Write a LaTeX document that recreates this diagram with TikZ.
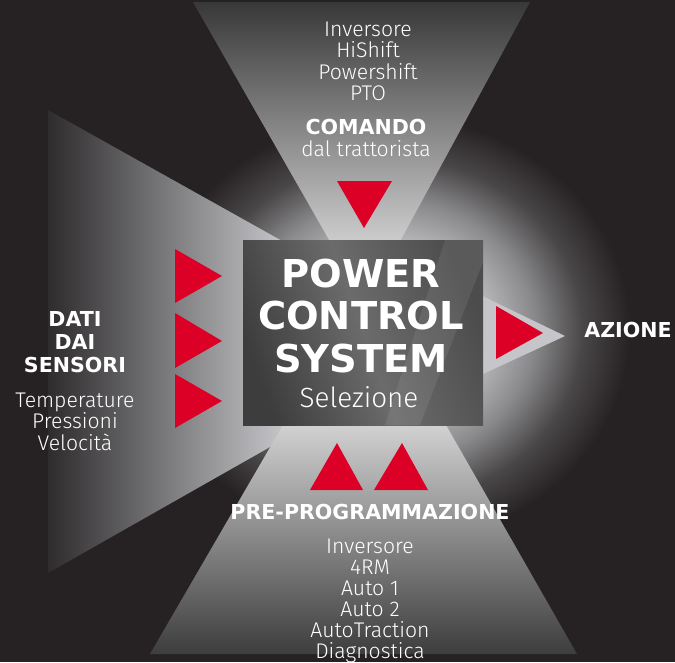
\documentclass[tikz,border=0pt]{standalone}
\usepackage{fontspec}
\setmainfont{Fira Sans}[UprightFont={* Light}]
\newfontfamily\hvy{DejaVu Sans}
\definecolor{bg}{HTML}{262223}
\definecolor{glowA}{HTML}{D0D0D4}
\definecolor{glowA2}{HTML}{C6C6CA}
\definecolor{glowB}{HTML}{8A8A8C}
\definecolor{glowC}{HTML}{4A4748}
\definecolor{beamdark}{HTML}{2E2C2D}
\definecolor{redtri}{RGB}{221,0,38}
\definecolor{rbeam}{HTML}{C6C6CA}
\pgfdeclareradialshading{glowsh}{\pgfpointorigin}{color(0bp)=(glowA); color(8.75bp)=(glowA2); color(15bp)=(glowB); color(20bp)=(glowC); color(25bp)=(bg); color(50bp)=(bg)}
\tikzset{
  lbl/.style={text=white, inner sep=0pt, align=center, font=\fontsize{21.2}{21.3}\selectfont},
  hdg/.style={text=white, inner sep=0pt, align=center, font=\hvy\bfseries\fontsize{20.6}{23}\selectfont},
  pcs/.style={text=white, inner sep=0pt, align=center, font=\hvy\bfseries\fontsize{38.4}{42.5}\selectfont},
  tri/.style={fill=redtri},
}
\begin{document}
\begin{tikzpicture}[x=1pt,y=-1pt]
\useasboundingbox (0,0) rectangle (675,662);
\fill[bg] (0,0) rectangle (675,662);
% glow
\shade[shading=glowsh] (390,330) ellipse [x radius=240, y radius=215];
% beams
\shade[left color=beamdark, right color=glowA] (48,110) -- (300,251) -- (300,430) -- (48,573) -- cycle;
\shade[top color=black!78, middle color=black!56, bottom color=black!19] (193,2) -- (530,2) -- (398,245) -- (332,245) -- cycle;
\shade[top color=black!18, middle color=black!45, bottom color=black!76] (283,425) -- (446,425) -- (577,654) -- (150,654) -- cycle;
\fill[rbeam] (470,290) -- (565,336) -- (470,380) -- cycle;
% central box
\shade[left color=black!76, right color=black!70, middle color=black!58, shading angle=110] (243,240) rectangle (483,425);
\begin{scope}
\clip (243,240) rectangle (483,425);
\fill[white, opacity=0.08] (445,240) -- (483,240) -- (483,262) -- (420,425) -- (385,425) -- cycle;
\end{scope}
\node[pcs, anchor=north] (pcs) at (361,258.7) {POWER\\CONTROL\\SYSTEM};
\node[lbl, font=\fontsize{27.8}{30}\selectfont, anchor=base] (sel) at (359,407.3) {Selezione};
% red triangles
\fill[tri] (337,181) -- (392,181) -- (364,228) -- cycle;
\fill[tri] (175,249) -- (175,303) -- (222,276) -- cycle;
\fill[tri] (175,313) -- (175,368) -- (222,341) -- cycle;
\fill[tri] (175,374) -- (175,428) -- (222,401) -- cycle;
\fill[tri] (496,306) -- (496,359) -- (543,333) -- cycle;
\fill[tri] (310,490) -- (363,490) -- (337,443) -- cycle;
\fill[tri] (374,490) -- (428,490) -- (402,443) -- cycle;
% texts
\node[lbl, anchor=north] (cmdlist) at (368,21.7) {Inversore\\HiShift\\Powershift\\PTO};
\node[hdg, anchor=base] (cmd) at (366,134) {COMANDO};
\node[lbl, anchor=base] (cmdsub) at (366,156) {dal trattorista};
\node[hdg, anchor=north] (sens) at (75,311.7) {DATI\\DAI\\SENSORI};
\node[lbl, anchor=north] (senslist) at (75,392.7) {Temperature\\Pressioni\\Velocità};
\node[hdg, anchor=base] (az) at (628,337.7) {AZIONE};
\node[hdg, anchor=base] (pre) at (370,519) {PRE-PROGRAMMAZIONE};
\node[lbl, anchor=north, font=\fontsize{21.2}{21.1}\selectfont] (prelist) at (370,538.3) {Inversore\\4RM\\Auto 1\\Auto 2\\AutoTraction\\Diagnostica};
\end{tikzpicture}
\end{document}
